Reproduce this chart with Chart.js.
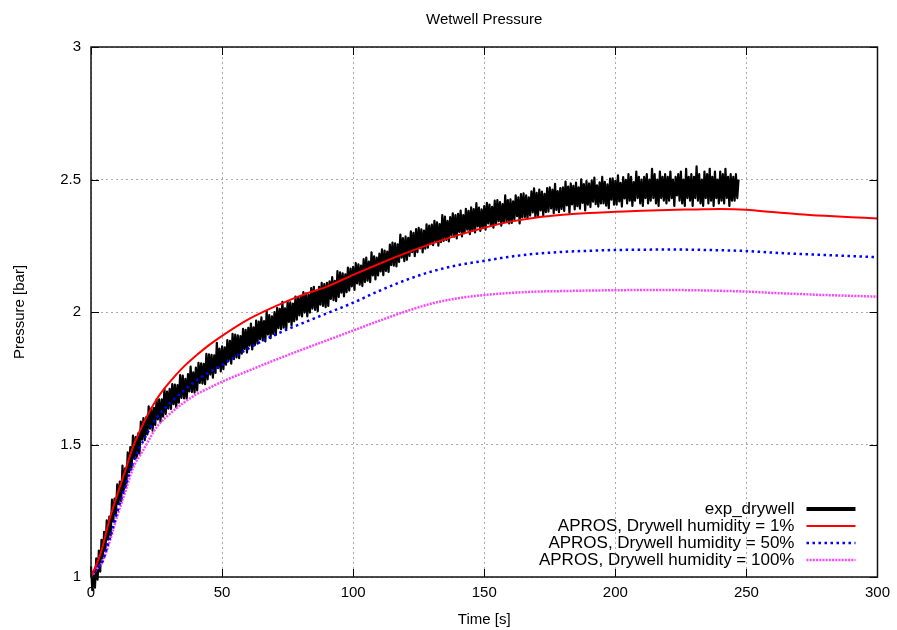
<!DOCTYPE html>
<html>
<head>
<meta charset="utf-8">
<script src="https://cdn.jsdelivr.net/npm/chart.js@4.4.1/dist/chart.umd.min.js"></script>
<style>
  html, body { margin: 0; padding: 0; background: #fff; }
  #wrap { width: 897px; height: 630px; }
</style>
</head>
<body>
<div id="wrap"><canvas id="c" width="897" height="630"></canvas></div>
<script>
// ---- data ----
const chartTitle = 'Wetwell Pressure';
const xTitle = 'Time [s]';
const yTitle = 'Pressure [bar]';
const xTicks = [0, 50, 100, 150, 200, 250, 300];
const yTicks = [1, 1.5, 2, 2.5, 3];
const seriesLabels = ['exp_drywell', 'APROS, Drywell humidity = 1%', 'APROS, Drywell humidity = 50%', 'APROS, Drywell humidity = 100%'];

// experimental pressure, one sample every 0.5 s starting at t = 0 s
const expStartTime = 0;
const expTimeStep = 0.5;
const expPressure = [
  1.04,0.95,1.02,0.96,1.07,0.99,1.10,1.02,1.14,1.07,
  1.17,1.097,1.214,1.141,1.228,1.155,1.292,1.209,1.296,1.233,
  1.35,1.275,1.36,1.285,1.42,1.325,1.41,1.345,1.47,1.395,
  1.49,1.412,1.534,1.446,1.528,1.45,1.542,1.464,1.586,1.518,
  1.60,1.516,1.602,1.538,1.644,1.56,1.636,1.552,1.638,1.574,
  1.67,1.595,1.67,1.585,1.67,1.605,1.71,1.615,1.70,1.635,
  1.71,1.634,1.728,1.652,1.726,1.64,1.724,1.658,1.762,1.676,
  1.76,1.674,1.748,1.672,1.766,1.70,1.794,1.698,1.772,1.696,
  1.79,1.704,1.808,1.732,1.806,1.73,1.804,1.728,1.842,1.746,
  1.84,1.764,1.838,1.752,1.836,1.77,1.884,1.788,1.862,1.776,
  1.87,1.784,1.867,1.801,1.894,1.818,1.891,1.805,1.918,1.822,
  1.915,1.829,1.912,1.826,1.909,1.843,1.936,1.86,1.933,1.847,
  1.94,1.873,1.956,1.859,1.942,1.875,1.968,1.881,1.964,1.897,
  1.98,1.893,1.966,1.889,2.002,1.915,1.988,1.901,1.984,1.917,
  2.00,1.913,2.016,1.939,2.012,1.935,2.038,1.941,2.014,1.937,
  2.04,1.963,2.036,1.949,2.032,1.965,2.058,1.971,2.054,1.987,
  2.06,1.983,2.075,1.998,2.07,1.983,2.065,1.998,2.09,2.013,
  2.095,2.008,2.08,2.003,2.095,2.028,2.11,2.023,2.105,2.018,
  2.11,2.023,2.116,2.049,2.132,2.045,2.118,2.041,2.154,2.057,
  2.15,2.073,2.146,2.059,2.142,2.075,2.168,2.081,2.164,2.097,
  2.17,2.083,2.185,2.108,2.18,2.103,2.175,2.098,2.20,2.113,
  2.205,2.118,2.19,2.113,2.225,2.138,2.21,2.123,2.205,2.138,
  2.22,2.153,2.236,2.139,2.232,2.155,2.228,2.151,2.254,2.177,
  2.262,2.175,2.259,2.172,2.255,2.189,2.292,2.205,2.279,2.192,
  2.285,2.197,2.28,2.212,2.304,2.226,2.299,2.211,2.313,2.226,
  2.318,2.24,2.312,2.225,2.307,2.239,2.331,2.243,2.326,2.258,
  2.33,2.252,2.344,2.266,2.338,2.25,2.332,2.264,2.366,2.268,
  2.36,2.272,2.344,2.266,2.358,2.29,2.372,2.284,2.366,2.278,
  2.37,2.302,2.383,2.285,2.366,2.298,2.389,2.311,2.382,2.294,
  2.395,2.307,2.388,2.30,2.411,2.323,2.394,2.306,2.387,2.319,
  2.40,2.311,2.412,2.334,2.405,2.326,2.397,2.318,2.42,2.331,
  2.422,2.343,2.415,2.326,2.407,2.339,2.44,2.341,2.422,2.334,
  2.425,2.336,2.418,2.349,2.44,2.362,2.433,2.334,2.445,2.357,
  2.448,2.359,2.44,2.352,2.433,2.364,2.455,2.376,2.467,2.359,
  2.45,2.361,2.462,2.383,2.454,2.365,2.446,2.377,2.468,2.379,
  2.47,2.391,2.462,2.373,2.484,2.385,2.456,2.377,2.468,2.389,
  2.47,2.381,2.492,2.402,2.473,2.374,2.485,2.406,2.476,2.387,
  2.488,2.399,2.47,2.39,2.501,2.412,2.483,2.383,2.494,2.405,
  2.485,2.396,2.496,2.416,2.507,2.407,2.478,2.398,2.489,2.41,
  2.51,2.41,2.491,2.401,2.482,2.392,2.503,2.424,2.504,2.405,
  2.495,2.405,2.516,2.417,2.487,2.398,2.509,2.429,2.499,2.41,
  2.52,2.42,2.51,2.40,2.49,2.42,2.53,2.43,2.51,2.41,
  2.50,2.40,2.51,2.43,2.52,2.41,2.50,2.42,2.54,2.43,
  2.52,2.41,2.50,2.40,2.53,2.43,2.51,2.42,2.52,2.41,
  2.51,2.42,2.53,2.43,2.50,2.40,2.51,2.44,2.52,2.42,
  2.53,2.41,2.50,2.40,2.54,2.43,2.51,2.42,2.52,2.40,
  2.51,2.43,2.55,2.42,2.52,2.41,2.50,2.40,2.53,2.43,
  2.52,2.41,2.54,2.42,2.51,2.40,2.53,2.43,2.50,2.41,
  2.53,2.42,2.52,2.41,2.54,2.43,2.51,2.40,2.52,2.42,
  2.51,2.42,2.52,2.43,2.50
];

// APROS simulations
const modelTime = [0,3,4,7,10,13,16,20,25,30,35,40,45,50,60,70,80,90,100,110,120,130,140,150,160,170,180,190,200,210,220,230,240,250,260,270,280,290,300];
const apros1 = [1.00,1.07,1.10,1.215,1.31,1.40,1.49,1.58,1.67,1.735,1.79,1.835,1.875,1.91,1.972,2.02,2.062,2.096,2.14,2.182,2.222,2.258,2.29,2.318,2.341,2.357,2.367,2.374,2.378,2.382,2.385,2.387,2.389,2.386,2.377,2.369,2.363,2.358,2.353];
const apros50 = [1.00,1.04,1.05,1.14,1.245,1.34,1.43,1.515,1.60,1.655,1.70,1.74,1.772,1.80,1.862,1.913,1.955,1.995,2.035,2.08,2.12,2.153,2.177,2.193,2.209,2.22,2.227,2.231,2.234,2.235,2.236,2.235,2.233,2.230,2.224,2.219,2.215,2.211,2.207];
const apros100 = [1.00,1.04,1.05,1.13,1.23,1.32,1.41,1.48,1.565,1.615,1.655,1.688,1.713,1.737,1.778,1.818,1.856,1.893,1.93,1.967,2.002,2.032,2.052,2.064,2.072,2.077,2.079,2.081,2.082,2.083,2.083,2.082,2.080,2.077,2.072,2.068,2.064,2.061,2.058];

// ---- build ----
const FONT = 'Liberation Sans, Arial, sans-serif';
const toXY = (xs, ys) => ys.map((v, i) => ({ x: xs[i], y: v }));
const expData = expPressure.map((v, i) => ({ x: expStartTime + i * expTimeStep, y: v }));

const framePlugin = {
  id: 'frame',
  afterDatasetsDraw(chart) {
    const { ctx, chartArea: a, scales } = chart;
    const xs = scales.x, ys = scales.y;
    ctx.save();
    ctx.strokeStyle = '#000';
    ctx.lineWidth = 1;
    ctx.setLineDash([]);
    const seg = (x1, y1, x2, y2) => { ctx.beginPath(); ctx.moveTo(x1, y1); ctx.lineTo(x2, y2); ctx.stroke(); };
    xTicks.forEach(v => {
      const p = Math.round(xs.getPixelForValue(v)) + 0.5;
      seg(p, a.bottom, p, a.bottom - 8);
      seg(p, a.top, p, a.top + 8);
    });
    yTicks.forEach(v => {
      const p = Math.round(ys.getPixelForValue(v)) + 0.5;
      seg(a.left, p, a.left + 8, p);
      seg(a.right, p, a.right - 8, p);
    });
    ctx.lineWidth = 1.5;
    ctx.strokeStyle = '#111';
    ctx.strokeRect(a.left, a.top, a.right - a.left, a.bottom - a.top);

    // key
    ctx.font = '17px ' + FONT;
    ctx.fillStyle = '#000';
    ctx.textAlign = 'right';
    ctx.textBaseline = 'middle';
    chart.data.datasets.forEach((ds, i) => {
      const yy = a.bottom - 68 + i * 17;
      ctx.fillText(ds.label, a.right - 83, yy);
      ctx.save();
      ctx.strokeStyle = ds.borderColor;
      ctx.lineWidth = i === 0 ? 4 : ds.borderWidth;
      ctx.setLineDash(ds.borderDash || []);
      ctx.lineCap = 'butt';
      seg(a.right - 71, yy, a.right - 22, yy);
      ctx.restore();
    });
    ctx.restore();
  }
};

new Chart(document.getElementById('c'), {
  type: 'line',
  data: {
    datasets: [
      { label: seriesLabels[0], data: expData, borderColor: '#000', borderWidth: 2.2, borderJoinStyle: 'round', pointRadius: 0, tension: 0, order: 1, clip: false },
      { label: seriesLabels[1], data: toXY(modelTime, apros1), borderColor: '#ff0000', borderWidth: 2, pointRadius: 0, cubicInterpolationMode: 'monotone', order: 0 },
      { label: seriesLabels[2], data: toXY(modelTime, apros50), borderColor: '#0000ff', borderWidth: 2.5, borderDash: [2.5, 3.5], pointRadius: 0, cubicInterpolationMode: 'monotone', order: 0 },
      { label: seriesLabels[3], data: toXY(modelTime, apros100), borderColor: '#ff44ff', borderWidth: 2.5, borderDash: [2, 1.2], pointRadius: 0, cubicInterpolationMode: 'monotone', order: 0 }
    ]
  },
  options: {
    responsive: false,
    animation: false,
    events: [],
    layout: { padding: { left: 0, right: 17, top: 0, bottom: 0 } },
    plugins: {
      legend: { display: false },
      tooltip: { enabled: false },
      title: {
        display: true, text: chartTitle, fullSize: false, color: '#000',
        font: { family: FONT, size: 15, weight: 'normal' },
        padding: { top: 11, bottom: 18 }
      }
    },
    scales: {
      x: {
        type: 'linear', min: 0, max: 300,
        afterFit: s => { s.height = 53; },
        afterBuildTicks: s => { s.ticks = xTicks.map(v => ({ value: v })); },
        ticks: { color: '#000', padding: 7, font: { family: FONT, size: 15 }, maxRotation: 0, callback: v => String(v) },
        grid: { color: '#aaa', lineWidth: 1, drawTicks: false },
        border: { display: false, dash: [2, 3] },
        title: { display: true, text: xTitle, color: '#000', font: { family: FONT, size: 15 }, padding: { top: 0, bottom: 1 } }
      },
      y: {
        type: 'linear', min: 1, max: 3,
        afterFit: s => { s.width = 91; },
        afterBuildTicks: s => { s.ticks = yTicks.map(v => ({ value: v })); },
        ticks: { color: '#000', padding: 10, font: { family: FONT, size: 15 }, callback: v => String(v) },
        grid: { color: '#aaa', lineWidth: 1, drawTicks: false },
        border: { display: false, dash: [2, 3] },
        title: { display: true, text: yTitle, color: '#000', font: { family: FONT, size: 15 }, padding: { top: 11, bottom: 0 } }
      }
    }
  },
  plugins: [framePlugin]
});
</script>
</body>
</html>
